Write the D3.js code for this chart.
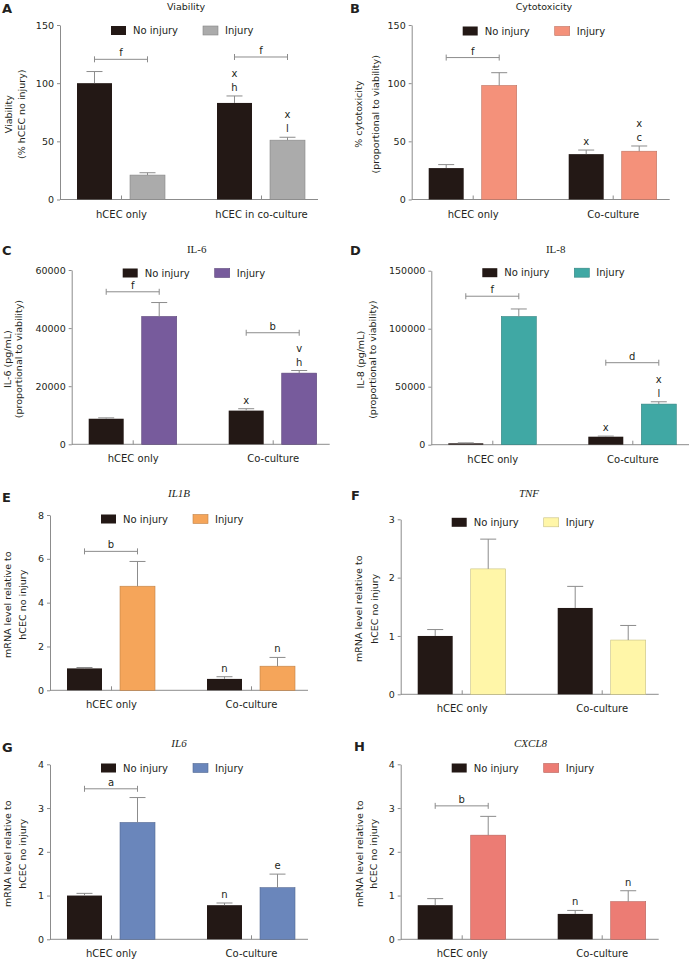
<!DOCTYPE html>
<html><head><meta charset="utf-8">
<script src="https://cdn.jsdelivr.net/npm/d3@7"></script>
<style>
body{margin:0;background:#fff}
svg{display:block}
text{font-family:"DejaVu Sans",Verdana,sans-serif;fill:#231f20}
</style>
</head><body><svg id="chart" width="689" height="966"></svg>
<script>
// ---------------- DATA ----------------
const seriesNames = ["No injury", "Injury"];
const groupsViability = ["hCEC only", "hCEC in co-culture"];
const groupsCulture = ["hCEC only", "Co-culture"];

// values indexed [group][series]
const viabilityMean = [[100, 21], [83, 51]];
const viabilityErr  = [[10, 2], [6, 2.5]];
const cytotoxMean   = [[27, 98], [39, 41.5]];
const cytotoxErr    = [[3, 11], [3.5, 4.5]];
const il6ProtMean   = [[8800, 44000], [11600, 24500]];
const il6ProtErr    = [[300, 4800], [650, 900]];
const il8ProtMean   = [[1200, 110500], [6900, 35000]];
const il8ProtErr    = [[400, 6500], [500, 2000]];
const il1bMean      = [[1.0, 4.75], [0.52, 1.1]];
const il1bErr       = [[0.04, 1.13], [0.1, 0.4]];
const tnfMean       = [[1.0, 2.15], [1.48, 0.93]];
const tnfErr        = [[0.11, 0.51], [0.37, 0.25]];
const il6RnaMean    = [[1.0, 2.67], [0.78, 1.18]];
const il6RnaErr     = [[0.05, 0.57], [0.05, 0.31]];
const cxcl8Mean     = [[0.78, 2.38], [0.58, 0.86]];
const cxcl8Err      = [[0.15, 0.43], [0.08, 0.25]];

// tick labels
const ticksPercent = [0, 50, 100, 150];
const ticksIL6 = [0, 20000, 40000, 60000];
const ticksIL8 = [0, 50000, 100000, 150000];
const ticksIL1B = [0, 2, 4, 6, 8];
const ticksTNF = [0, 1, 2, 3];
const ticksFold4 = [0, 1, 2, 3, 4];

// significance brackets: group index, height (data units), label
const bracketsA = [{g: 0, v: 120.5, t: "f"}, {g: 1, v: 122.5, t: "f"}];
const bracketsB = [{g: 0, v: 122, t: "f"}];
const bracketsC = [{g: 0, v: 52500, t: "f"}, {g: 1, v: 38400, t: "b"}];
const bracketsD = [{g: 0, v: 128000, t: "f"}, {g: 1, v: 70700, t: "d"}];
const bracketsE = [{g: 0, v: 6.34, t: "b"}];
const bracketsF = [];
const bracketsG = [{g: 0, v: 3.44, t: "a"}];
const bracketsH = [{g: 0, v: 3.05, t: "b"}];

// letters above bars (bottom to top): group, series, labels
const lettersA = [{g: 1, s: 0, t: ["h", "x"]}, {g: 1, s: 1, t: ["l", "x"]}];
const lettersB = [{g: 1, s: 0, t: ["x"]}, {g: 1, s: 1, t: ["c", "x"]}];
const lettersC = [{g: 1, s: 0, t: ["x"]}, {g: 1, s: 1, t: ["h", "v"]}];
const lettersD = [{g: 1, s: 0, t: ["x"]}, {g: 1, s: 1, t: ["l", "x"]}];
const lettersE = [{g: 1, s: 0, t: ["n"]}, {g: 1, s: 1, t: ["n"]}];
const lettersF = [];
const lettersG = [{g: 1, s: 0, t: ["n"]}, {g: 1, s: 1, t: ["e"]}];
const lettersH = [{g: 1, s: 0, t: ["n"]}, {g: 1, s: 1, t: ["n"]}];

// ---------------- STYLE / LAYOUT ----------------
const BLACK = "#231815";
const AXIS = "#8c8c8c";

const panels = [
  {letter: "A", lx: 2, ly: 13, title: "Viability", tStyle: "sans", tx: 186, ty: 10,
   x0: 60, yTop: 25, yBot: 199.5, max: 150, ticks: ticksPercent, groups: groupsViability,
   mean: viabilityMean, err: viabilityErr, color: "#ababab", legDy: 5.5,
   ylab: ["Viability", "(% hCEC no injury)"], ylx: [9, 22], brackets: bracketsA, letters: lettersA},
  {letter: "B", lx: 350, ly: 13, title: "Cytotoxicity", tStyle: "sans", tx: 544, ty: 10,
   x0: 411.7, yTop: 25, yBot: 199.5, max: 150, ticks: ticksPercent, groups: groupsCulture,
   mean: cytotoxMean, err: cytotoxErr, color: "#f4917a", legDy: 6,
   ylab: ["% cytotoxicity", "(proportional to viability)"], ylx: [359, 375.5], brackets: bracketsB, letters: lettersB},
  {letter: "C", lx: 2, ly: 255, title: "IL-6", tStyle: "serif", tx: 196.7, ty: 253,
   x0: 71.7, yTop: 270, yBot: 444.3, max: 60000, ticks: ticksIL6, groups: groupsCulture,
   mean: il6ProtMean, err: il6ProtErr, color: "#775b9c", legDy: 3,
   ylab: ["IL-6 (pg/mL)", "(proportional to viability)"], ylx: [7.5, 19], brackets: bracketsC, letters: lettersC},
  {letter: "D", lx: 350, ly: 255, title: "IL-8", tStyle: "serif", tx: 555.7, ty: 253,
   x0: 431.3, yTop: 270.7, yBot: 444.7, max: 150000, ticks: ticksIL8, groups: groupsCulture,
   mean: il8ProtMean, err: il8ProtErr, color: "#40a8a4", legDy: 2,
   ylab: ["IL-8 (pg/mL)", "(proportional to viability)"], ylx: [361, 372.7], brackets: bracketsD, letters: lettersD},
  {letter: "E", lx: 2, ly: 502, title: "IL1B", tStyle: "italic", tx: 179, ty: 497,
   x0: 50, yTop: 515, yBot: 690.3, max: 8, ticks: ticksIL1B, groups: groupsCulture,
   mean: il1bMean, err: il1bErr, color: "#f5a55a", legDy: 4,
   ylab: ["mRNA level relative to", "hCEC no injury"], ylx: [8, 23], brackets: bracketsE, letters: lettersE},
  {letter: "F", lx: 351, ly: 500, title: "TNF", tStyle: "italic", tx: 529, ty: 497,
   x0: 400.7, yTop: 519.3, yBot: 694.3, max: 3, ticks: ticksTNF, groups: groupsCulture,
   mean: tnfMean, err: tnfErr, color: "#fff6a8", legDy: 3,
   ylab: ["mRNA level relative to", "hCEC no injury"], ylx: [359, 375], brackets: bracketsF, letters: lettersF},
  {letter: "G", lx: 2, ly: 752, title: "IL6", tStyle: "italic", tx: 179, ty: 746.5,
   x0: 50, yTop: 764.3, yBot: 939.3, max: 4, ticks: ticksFold4, groups: groupsCulture,
   mean: il6RnaMean, err: il6RnaErr, color: "#6a86bb", legDy: 3.7,
   ylab: ["mRNA level relative to", "hCEC no injury"], ylx: [8, 23], brackets: bracketsG, letters: lettersG},
  {letter: "H", lx: 354, ly: 751, title: "CXCL8", tStyle: "italic", tx: 530.5, ty: 746.5,
   x0: 400.7, yTop: 764.3, yBot: 939.3, max: 4, ticks: ticksFold4, groups: groupsCulture,
   mean: cxcl8Mean, err: cxcl8Err, color: "#ec7c74", legDy: 3.7,
   ylab: ["mRNA level relative to", "hCEC no injury"], ylx: [360, 374], brackets: bracketsH, letters: lettersH}
];

const svg = d3.select("#chart");

function drawPanel(p) {
  const g = svg.append("g");
  const y = d3.scaleLinear().domain([0, p.max]).range([p.yBot, p.yTop]);
  const x = d3.scalePoint().domain(p.groups).range([p.x0 + 61, p.x0 + 201]);
  const xs = d3.scaleBand().domain(seriesNames).range([-44, 44]).paddingInner(0.34);
  const col = d3.scaleOrdinal().domain(seriesNames).range([BLACK, p.color]);
  const bw = xs.bandwidth();

  // panel letter
  g.append("text").attr("x", p.lx).attr("y", p.ly).text(p.letter)
    .style("font-size", "13px").style("font-weight", "bold");

  // title
  const t = g.append("text").attr("x", p.tx).attr("y", p.ty).attr("text-anchor", "middle").text(p.title);
  if (p.tStyle === "sans") t.style("font-size", "9.5px");
  else {
    t.style("font-family", "'Liberation Serif','Times New Roman',serif").style("font-size", "11px");
    if (p.tStyle === "italic") t.style("font-style", "italic");
  }

  // y axis
  const ya = g.append("g").attr("transform", `translate(${p.x0},0)`)
    .call(d3.axisLeft(y).tickValues(p.ticks).tickSize(3).tickSizeOuter(0).tickPadding(3).tickFormat(d3.format("d")));
  ya.select(".domain").attr("stroke", AXIS);
  ya.selectAll(".tick line").attr("stroke", AXIS);
  ya.selectAll(".tick text").style("font-size", "9.5px").style("font-family", "'DejaVu Sans',Verdana,sans-serif").attr("fill", "#231f20");

  // y label
  const ymid = (p.yTop + p.yBot) / 2 + 2;
  p.ylab.forEach((line, i) => {
    g.append("text").attr("transform", `translate(${p.ylx[i]},${ymid}) rotate(-90)`)
      .attr("text-anchor", "middle").attr("dy", "0.35em").style("font-size", "9.5px").text(line);
  });

  // x axis
  g.append("line").attr("x1", p.x0).attr("x2", p.x0 + 258).attr("y1", y(0)).attr("y2", y(0)).attr("stroke", AXIS);
  const xa = g.append("g").attr("transform", `translate(0,${y(0)})`)
    .call(d3.axisBottom(x).tickSize(-4).tickPadding(11));
  xa.select(".domain").remove();
  xa.selectAll(".tick line").attr("stroke", AXIS);
  xa.selectAll(".tick text").style("font-size", "10px").style("font-family", "'DejaVu Sans',Verdana,sans-serif").attr("fill", "#231f20");

  // bars
  const data = p.groups.flatMap((gr, i) => seriesNames.map((s, j) => ({gr, s, i, j, m: p.mean[i][j], e: p.err[i][j]})));
  g.selectAll("rect.bar").data(data).join("rect").attr("class", "bar")
    .attr("x", d => x(d.gr) + xs(d.s)).attr("width", bw)
    .attr("y", d => y(d.m)).attr("height", d => y(0) - y(d.m))
    .attr("fill", d => col(d.s))
    .attr("stroke", d => d.j === 0 ? "none" : d3.color(col(d.s)).darker(0.7))
    .attr("stroke-width", 0.6);

  // error bars
  const eb = g.selectAll("g.err").data(data).join("g").attr("class", "err");
  eb.append("line")
    .attr("x1", d => x(d.gr) + xs(d.s) + bw / 2).attr("x2", d => x(d.gr) + xs(d.s) + bw / 2)
    .attr("y1", d => y(d.m)).attr("y2", d => y(d.m + d.e)).attr("stroke", AXIS);
  eb.append("line")
    .attr("x1", d => x(d.gr) + xs(d.s) + bw / 2 - 8).attr("x2", d => x(d.gr) + xs(d.s) + bw / 2 + 8)
    .attr("y1", d => y(d.m + d.e)).attr("y2", d => y(d.m + d.e)).attr("stroke", AXIS);

  // brackets
  p.brackets.forEach(b => {
    const gr = p.groups[b.g];
    const xa1 = x(gr) + xs(seriesNames[0]) + bw / 2;
    const xa2 = x(gr) + xs(seriesNames[1]) + bw / 2;
    const yy = y(b.v);
    g.append("line").attr("x1", xa1).attr("x2", xa2).attr("y1", yy).attr("y2", yy).attr("stroke", AXIS);
    [xa1, xa2].forEach(xx => g.append("line").attr("x1", xx).attr("x2", xx).attr("y1", yy - 3).attr("y2", yy + 3).attr("stroke", AXIS));
    g.append("text").attr("x", (xa1 + xa2) / 2).attr("y", yy - 3).attr("text-anchor", "middle")
      .style("font-size", "10px").text(b.t);
  });

  // letters
  p.letters.forEach(a => {
    const gr = p.groups[a.g];
    const cx = x(gr) + xs(seriesNames[a.s]) + bw / 2;
    const top = y(p.mean[a.g][a.s] + p.err[a.g][a.s]);
    a.t.forEach((lab, k) => {
      g.append("text").attr("x", cx).attr("y", top - 5 - 14 * k).attr("text-anchor", "middle")
        .style("font-size", "10px").text(lab);
    });
  });

  // legend
  const legX = [p.x0 + 51, p.x0 + 143];
  const legY = p.yTop + p.legDy;
  seriesNames.forEach((s, j) => {
    g.append("rect").attr("x", legX[j]).attr("y", legY - 4.5).attr("width", 15).attr("height", 9)
      .attr("fill", col(s)).attr("stroke", j === 0 ? "none" : d3.color(col(s)).darker(0.7)).attr("stroke-width", 0.6);
    g.append("text").attr("x", legX[j] + 22).attr("y", legY).attr("dy", "0.35em")
      .style("font-size", "10px").text(s);
  });
}

panels.forEach(drawPanel);
</script>
</body></html>
